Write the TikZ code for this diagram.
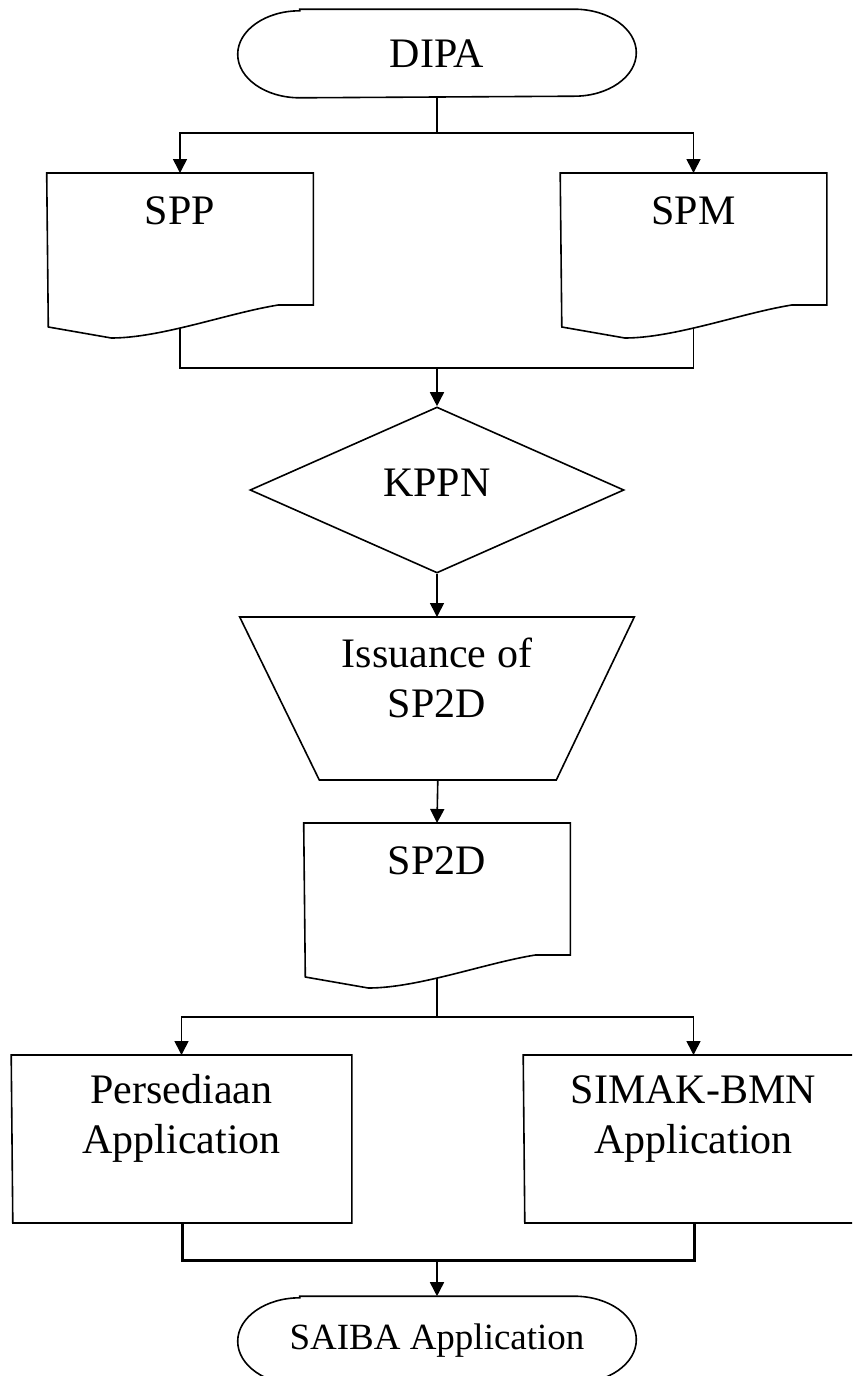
\documentclass[tikz,border=0pt]{standalone}
\usepackage{fontspec}
\setmainfont{Liberation Serif}
\usetikzlibrary{calc,arrows.meta,shapes.geometric}
\tikzset{>={Triangle[length=14pt,width=14pt]}}
\tikzset{txt/.style={inner sep=0pt, align=center}}

% outline of a document node, bottom is a wave
\newcommand{\docoutline}[1]{%
  \draw (#1.north west) -- (#1.north east) -- ++(0,-132) -- ++(-35,0)
    .. controls +(-50,-8) and +(50,0) .. ++(-167,-33) -- ++(-63,11) -- cycle;
  \coordinate (#1-foot) at ($(#1.north)+(0,-155)$);
}
% outline of a start/end node
\newcommand{\termoutline}[1]{%
  \draw ([xshift=62pt]#1.north west) -- ([xshift=-62pt]#1.north east)
    arc[start angle=90, end angle=-90, x radius=62pt, y radius=43.5pt]
    -- ([xshift=62pt]#1.south west)
    arc[start angle=270, end angle=90, x radius=62pt, y radius=43.5pt] -- cycle;
}

\begin{document}
\begin{tikzpicture}[x=1pt, y=1pt, line width=1.6pt, font=\fontsize{42}{50}\selectfont]
  \useasboundingbox (0,0) rectangle (852,-1376);
  \clip (0,0) rectangle (852,-1376);

  \node[txt, minimum width=397, minimum height=87] (dipa) at (437,-53.5) {DIPA};
  \node[txt, minimum width=265, minimum height=74, anchor=north] (spp) at (180,-173) {SPP};
  \node[txt, minimum width=265, minimum height=74, anchor=north] (spm) at (693.5,-173) {SPM};
  \node[diamond, draw, minimum width=374, minimum height=166, inner sep=0pt, text depth=14pt] (kppn) at (437,-490) {KPPN};
  \node[txt, minimum width=393, minimum height=120, anchor=north] (issue) at (437,-617) {Issuance of\\SP2D};
  \node[txt, minimum width=265, minimum height=74, anchor=north] (sp2d) at (437,-823) {SP2D};
  \node[txt, minimum width=339, minimum height=126, anchor=north] (pers) at (181.5,-1055) {Persediaan\\Application};
  \node[txt, minimum width=339, minimum height=126, anchor=north] (simak) at (693.5,-1055) {SIMAK-BMN\\Application};
  \node[txt, minimum width=397, minimum height=87, font=\fontsize{37}{44}\selectfont] (saiba) at (437,-1340.5) {SAIBA Application};

  % shapes
  \termoutline{dipa}
  \docoutline{spp}
  \docoutline{spm}
  \draw (issue.north west) -- (issue.north east) -- ++(-78,-163) -- ++(-118.5,0) coordinate (issue-foot) -- ++(-118.5,0) -- cycle;
  \docoutline{sp2d}
  \draw (pers.north west) -- (pers.north east) -- ++(0,-168) -- ++(-169.5,0) coordinate (pers-foot) -- ++(-169.5,0) -- cycle;
  \draw (simak.north west) -- (simak.north east) -- ++(0,-168) -- ++(-169.5,0) coordinate (simak-foot) -- ++(-169.5,0) -- cycle;
  \termoutline{saiba}

  % connectors
  \draw[->] (dipa.south) -- ++(0,-35) -| (spp.north);
  \draw[->] (dipa.south) -- ++(0,-35) -| (spm.north);
  \coordinate (j1) at ($(kppn.north)+(0,38)$);
  \draw (spp-foot) |- (j1) -| (spm-foot);
  \draw[->] (j1) -- (kppn.north);
  \draw[->] (kppn.south) -- (issue.north);
  \draw[->] (issue-foot) -- (sp2d.north);
  \draw[->] (sp2d-foot) -- ++(0,-39) -| (pers.north);
  \draw[->] (sp2d-foot) -- ++(0,-39) -| (simak.north);
  \coordinate (j3) at ($(saiba.north)+(0,36)$);
  \draw[line width=3pt] (pers-foot) |- (j3) -| (simak-foot);
  \draw[->] (j3) -- (saiba.north);
\end{tikzpicture}
\end{document}
